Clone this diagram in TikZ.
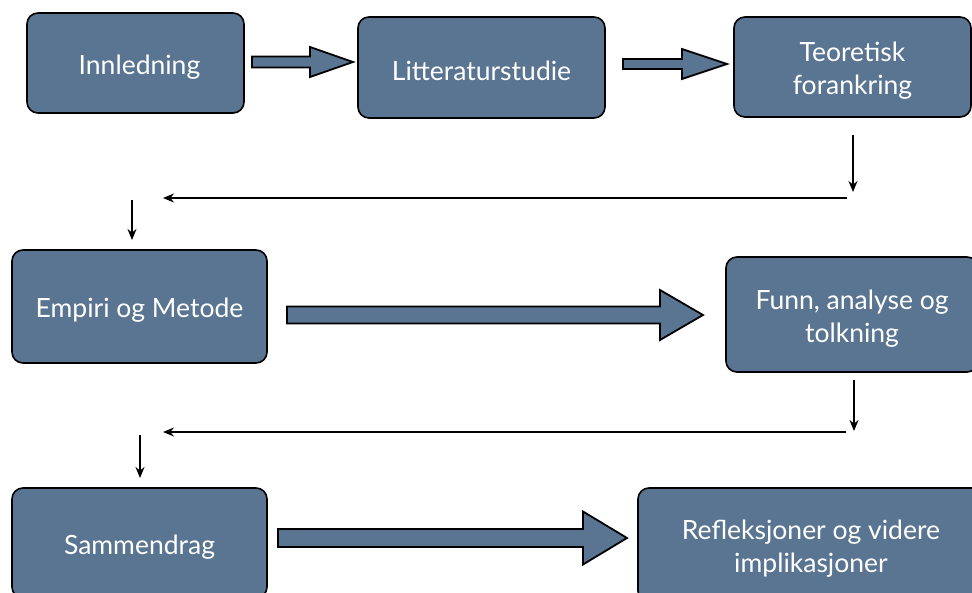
\documentclass[tikz,border=0pt]{standalone}
\usepackage{fontspec}
\setmainfont{Lato}
\usetikzlibrary{arrows.meta,calc}
\definecolor{boxblue}{RGB}{90,117,146}
\newcommand{\droptext}{\rule{0pt}{27pt}}
\tikzset{
  stage/.style={draw=black, line width=1.6pt, fill=boxblue, rounded corners=11pt,
    text=white, align=center, font=\fontsize{26.5}{33}\selectfont, inner sep=0pt},
  flow/.style={-{Stealth[length=11pt,width=9pt]}, line width=1.8pt},
  blockarrow/.style={draw=black, line width=1.8pt, fill=boxblue, line join=miter},
}
% #1 tail, #2 tip, #3 shaft half-width, #4 head half-width, #5 head length
\newcommand{\myblockarrow}[5]{%
  \path[blockarrow] let \p1=(#1), \p2=(#2) in
    (\x1,\y1+#3pt) -- (\x2-#5pt,\y1+#3pt) -- (\x2-#5pt,\y1+#4pt) -- (\x2,\y2)
    -- (\x2-#5pt,\y1-#4pt) -- (\x2-#5pt,\y1-#3pt) -- (\x1,\y1-#3pt) -- cycle;}
\begin{document}
\begin{tikzpicture}[x=1pt,y=-1pt]
\useasboundingbox (0,0) rectangle (972,592);
\fill[white] (0,0) rectangle (972,592);
\clip (0,0) rectangle (972,592);

% stages
\node[stage, minimum width=217, minimum height=100] (inn) at (135.5,63) {\droptext\hspace{8pt}Innledning};
\node[stage, minimum width=247, minimum height=101] (lit) at (481.5,67.5) {\droptext Litteraturstudie};
\node[stage, minimum width=237, minimum height=100] (teo) at (852.5,67) {\droptext Teoretisk\\forankring};
\node[stage, minimum width=255, minimum height=113] (emp) at (139.5,306.5) {\droptext Empiri og Metode};
\node[stage, minimum width=252, minimum height=115] (fun) at (852,314.5) {\droptext Funn, analyse og\\tolkning};
\node[stage, minimum width=255, minimum height=110] (sam) at (139.5,543) {\droptext Sammendrag};
\node[stage, minimum width=346, minimum height=114] (ref) at (811,545) {\droptext Refleksjoner og videre\\implikasjoner};

% block arrows
\coordinate (b1s) at (252,62);  \coordinate (b1e) at (353,62);
\coordinate (b2s) at (623,64);  \coordinate (b2e) at (727,64);
\coordinate (b3s) at (287,315); \coordinate (b3e) at (703,315);
\coordinate (b4s) at (278,538); \coordinate (b4e) at (627,538);
\myblockarrow{b1s}{b1e}{5.5}{15}{43}
\myblockarrow{b2s}{b2e}{5}{15}{45}
\myblockarrow{b3s}{b3e}{8.5}{25}{43}
\myblockarrow{b4s}{b4e}{9}{26.5}{44}

% thin connectors
\coordinate (t1a) at (853,135); \coordinate (t1b) at (853,192);
\coordinate (h1a) at (847,198); \coordinate (h1b) at (163,198);
\coordinate (t2a) at (132,200); \coordinate (t2b) at (132,240);
\draw[flow] (t1a) -- (t1b);
\draw[flow] (h1a) -- (h1b);
\draw[flow] (t2a) -- (t2b);

\coordinate (t3a) at (854,380); \coordinate (t3b) at (854,431);
\coordinate (h2a) at (846,432); \coordinate (h2b) at (163,432);
\coordinate (t4a) at (140,435); \coordinate (t4b) at (140,478);
\draw[flow] (t3a) -- (t3b);
\draw[flow] (h2a) -- (h2b);
\draw[flow] (t4a) -- (t4b);
\end{tikzpicture}
\end{document}
